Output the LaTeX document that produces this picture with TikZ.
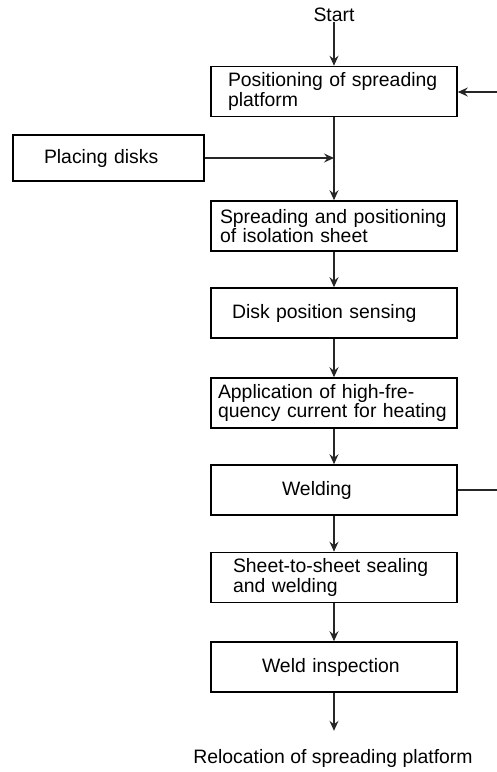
\documentclass[tikz,border=0pt]{standalone}
\usepackage{fontspec}
\setmainfont{Liberation Sans}
\usetikzlibrary{arrows.meta, positioning}

\begin{document}
\begin{tikzpicture}[x=1pt, y=-1pt]

\tikzset{
  stagebox/.style = {rectangle, draw=black, line width=1.6pt, minimum width=246pt,
                     minimum height=50pt, align=left, inner ysep=0pt,
                     font=\fontsize{19.4}{19.5}\selectfont, text=black},
  plain/.style    = {font=\fontsize{19.4}{19.5}\selectfont, text=black, inner sep=0pt},
  arr/.style      = {-{Stealth[length=10pt,width=9pt,inset=3.5pt]}, line width=1.1pt, black!85},
  lin/.style      = {line width=1.1pt, black!85}
}

\useasboundingbox (0,0) rectangle (497,772);

%% -- Start and end labels ---------------------------------------
\node[plain] (start) at (334, 15)  {Start};
\node[plain] (reloc) at (333, 758) {Relocation of spreading platform};

%% -- Main chain of stages ---------------------------------------
\node[stagebox, inner xsep=17pt, text width=212pt] (platform) at (334, 91.5)
      {Positioning of spreading\\platform};
\node[stagebox, minimum width=191pt, minimum height=46pt, inner xsep=31pt, text width=129pt]
      (disks) at (108.5, 158) {Placing disks};
\node[stagebox, inner xsep=9pt,  text width=228pt] (sheet) at (334, 226)
      {Spreading and positioning\\of isolation sheet};
\node[stagebox, inner xsep=21pt, text width=204pt] (sensing) at (334, 313)
      {Disk position sensing};
\node[stagebox, inner xsep=7pt,  text width=232pt] (heating) at (334, 403)
      {Application of high-fre-\\quency current for heating};
\node[stagebox, inner xsep=71pt, text width=104pt] (welding) at (334, 490)
      {Welding};
\node[stagebox, inner xsep=22pt, text width=202pt] (sealing) at (334, 577.5)
      {Sheet-to-sheet sealing\\and welding};
\node[stagebox, inner xsep=51pt, text width=144pt] (inspect) at (334, 667)
      {Weld inspection};

%% -- Helper coordinates -----------------------------------------
\coordinate (join)   at (platform.south |- disks.east);
\coordinate (fbin)   at (497, 92);
\coordinate (fbout)  at (497, 490);

%% -- Arrows -----------------------------------------------------
\draw[arr] (start)          -- (platform.north);
\draw[arr] (platform.south) -- (sheet.north);
\draw[arr] (disks.east)     -- (join);
\draw[arr] (sheet)   -- (sensing);
\draw[arr] (sensing) -- (heating);
\draw[arr] (heating) -- (welding);
\draw[arr] (welding) -- (sealing);
\draw[arr] (sealing) -- (inspect);
\draw[arr] (inspect.south) -- ++(0,38);

%% -- Return to platform -----------------------------------------
\draw[lin] (welding.east) -- (fbout);
\draw[arr] (fbin) -- (platform.east |- fbin);

\end{tikzpicture}
\end{document}
